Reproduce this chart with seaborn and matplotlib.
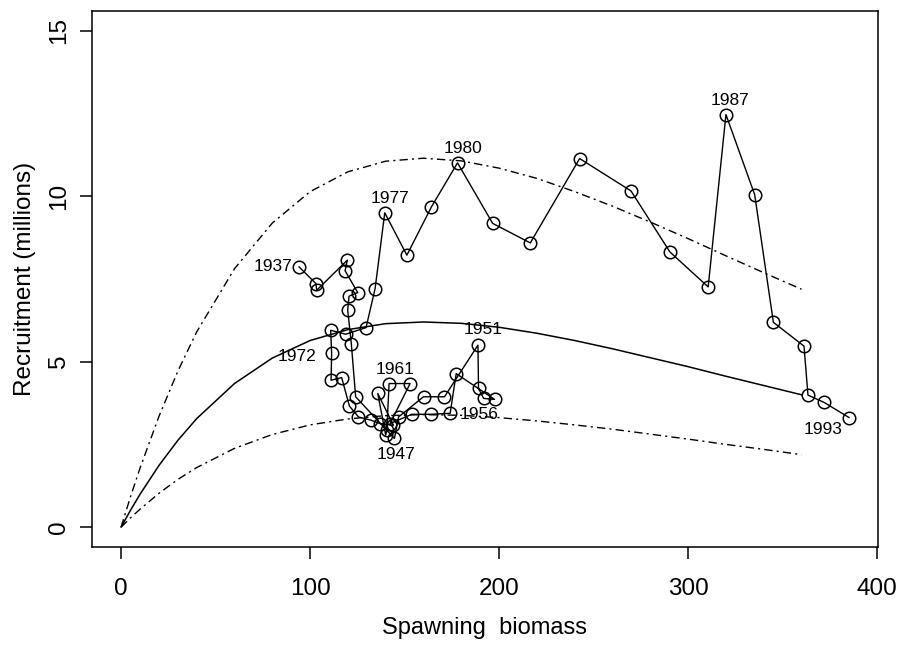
import matplotlib
matplotlib.use("Agg")
import matplotlib.pyplot as plt
import seaborn as sns
import pandas as pd

# observed stock-recruitment series, 1937-1993
years = list(range(1937, 1994))
biomass = [94.1, 103.1, 103.5, 119.7, 118.5, 125.2, 120.6, 119.9, 121.8, 124.1,
           144.6, 146.8, 160.0, 171.1, 188.8, 189.1, 191.8, 197.6, 177.3, 174.1,
           163.9, 153.8, 142.3, 152.9, 141.8, 140.6, 140.0, 135.8, 144.1, 137.0,
           132.3, 125.6, 120.8, 116.7, 111.1, 111.4, 110.9, 118.8, 129.6, 134.4,
           139.5, 151.2, 164.2, 178.0, 196.6, 216.5, 242.6, 269.8, 290.3, 310.6,
           320.0, 335.2, 345.1, 361.3, 363.4, 371.9, 385.2]
recruits = [7.87, 7.36, 7.16, 8.07, 7.75, 7.09, 6.98, 6.56, 5.55, 3.94,
            2.68, 3.33, 3.94, 3.94, 5.50, 4.19, 3.89, 3.86, 4.64, 3.44,
            3.41, 3.41, 3.13, 4.34, 4.34, 2.93, 2.78, 4.04, 3.08, 3.13,
            3.23, 3.33, 3.66, 4.52, 4.44, 5.25, 5.95, 5.83, 6.03, 7.21,
            9.50, 8.22, 9.68, 11.01, 9.18, 8.59, 11.14, 10.16, 8.32, 7.26,
            12.47, 10.05, 6.19, 5.47, 3.99, 3.77, 3.31]

# fitted curve and its bounds
curve_s = [0, 5, 10, 20, 30, 40, 60, 80, 100, 120, 140, 160, 180, 200,
           220, 240, 260, 280, 300, 320, 340, 360]
curve_mid = [0, 0.51, 0.99, 1.86, 2.62, 3.28, 4.34, 5.11, 5.64, 5.97, 6.15,
             6.20, 6.16, 6.04, 5.86, 5.64, 5.39, 5.12, 4.85, 4.56, 4.28, 4.00]
curve_upper = [0, 0.92, 1.78, 3.34, 4.71, 5.90, 7.81, 9.19, 10.14, 10.74, 11.06,
               11.15, 11.07, 10.85, 10.54, 10.14, 9.70, 9.22, 8.72, 8.20, 7.69, 7.19]
curve_lower = [0, 0.28, 0.54, 1.02, 1.44, 1.80, 2.38, 2.80, 3.09, 3.27, 3.37,
               3.40, 3.38, 3.31, 3.21, 3.09, 2.96, 2.81, 2.66, 2.50, 2.35, 2.19]

# labelled years and where the label sits (offset in points, alignment)
label_pos = {
    1937: ((-5, 0), 'right', 'center'),
    1947: ((1, -6), 'center', 'top'),
    1951: ((4, 6), 'center', 'bottom'),
    1956: ((7, -1), 'left', 'center'),
    1961: ((4, 5), 'center', 'bottom'),
    1972: ((-11, -2), 'right', 'center'),
    1977: ((4, 5), 'center', 'bottom'),
    1980: ((4, 5), 'center', 'bottom'),
    1987: ((3, 5), 'center', 'bottom'),
    1993: ((-5, -3), 'right', 'top'),
}

sns.set_style('ticks')
plt.rcParams['font.family'] = ['Liberation Sans', 'DejaVu Sans']
plt.rcParams['text.color'] = 'black'
plt.rcParams['axes.labelcolor'] = 'black'

df = pd.DataFrame({'year': years, 'S': biomass, 'R': recruits})
curves = pd.DataFrame({'S': curve_s, 'mid': curve_mid,
                       'upper': curve_upper, 'lower': curve_lower})

fig = plt.figure(figsize=(9.06, 6.47), dpi=100)
ax = fig.add_axes([0.1015, 0.1546, 0.8675, 0.8284])

dashdot = (0, (6, 3, 1.5, 3))
sns.lineplot(data=curves, x='S', y='mid', color='black', linewidth=1.1,
             estimator=None, sort=False, ax=ax)
sns.lineplot(data=curves, x='S', y='upper', color='black', linewidth=1.0,
             linestyle=dashdot, estimator=None, sort=False, ax=ax)
sns.lineplot(data=curves, x='S', y='lower', color='black', linewidth=1.0,
             linestyle=dashdot, estimator=None, sort=False, ax=ax)

sns.lineplot(data=df, x='S', y='R', color='black', linewidth=1.0,
             estimator=None, sort=False, marker='o', markersize=9,
             markerfacecolor='none', markeredgecolor='black',
             markeredgewidth=1.1, ax=ax)

for yr, (off, ha, va) in label_pos.items():
    row = df[df['year'] == yr].iloc[0]
    ax.annotate(str(yr), (row['S'], row['R']), xytext=off,
                textcoords='offset points', ha=ha, va=va, fontsize=12.5,
                color='black')

ax.set_xlim(-15.4, 400.4)
ax.set_ylim(-0.6, 15.6)
ax.set_xticks([0, 100, 200, 300, 400])
ax.set_yticks([0, 5, 10, 15])
ax.set_xlabel('Spawning  biomass', fontsize=17, labelpad=12)
ax.set_ylabel('Recruitment (millions)', fontsize=17.5, labelpad=9)

for side in ['top', 'right', 'bottom', 'left']:
    ax.spines[side].set_visible(True)
    ax.spines[side].set_color('black')
    ax.spines[side].set_linewidth(1.1)
ax.tick_params(axis='both', direction='out', length=8.5, width=1.1,
               colors='black', labelsize=17.5)
ax.tick_params(axis='x', pad=14)
ax.tick_params(axis='y', pad=7)
for lab in ax.get_yticklabels():
    lab.set_rotation(90)
    lab.set_va('center')

fig.savefig('out.png', dpi=100, facecolor='white')
